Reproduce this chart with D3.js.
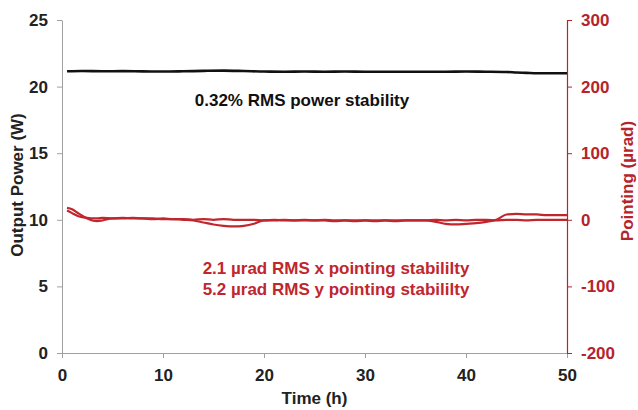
<!DOCTYPE html>
<html><head><meta charset="utf-8">
<script src="https://cdn.jsdelivr.net/npm/d3@7"></script>
<style>
html,body{margin:0;padding:0;background:#fff;}
svg{display:block;font-family:"Liberation Sans",Arial,sans-serif;font-weight:bold;}
</style></head>
<body><svg id="c" width="638" height="410"></svg>
<script>
// ---- data ----
const timeTicks = [0, 10, 20, 30, 40, 50];
const powerTicks = [0, 5, 10, 15, 20, 25];
const pointingTicks = [-200, -100, 0, 100, 200, 300];

const powerTime = [0.5, 2, 4, 6, 8, 10, 12, 14, 16, 18, 20, 22, 24, 26, 28, 30, 32, 34, 36, 38, 40, 42, 44, 45, 46, 47, 48, 50];
const powerW    = [21.15, 21.17, 21.15, 21.16, 21.14, 21.13, 21.15, 21.18, 21.2, 21.17, 21.13, 21.12, 21.13, 21.12, 21.13, 21.12, 21.12, 21.12, 21.12, 21.12, 21.13, 21.12, 21.1, 21.06, 21.03, 21.0, 21.0, 21.0];

const pointingTime = [0.5, 1, 1.5, 2, 2.5, 3, 3.5, 4, 5, 6, 7, 8, 9, 10, 11, 12, 13, 14, 15, 16, 17, 18, 19, 20, 21, 22, 23, 24, 25, 26, 27, 28, 29, 30, 31, 32, 33, 34, 35, 36, 37, 38, 39, 40, 41, 42, 43, 44, 45, 46, 47, 48, 49, 50];
const xPointing = [14, 10, 6, 4, 3, 2, 2, 3, 2, 3, 2, 2, 1, 2, 1, 1, 0, 1, 0, 1, 0, 0, 0, -1, 0, -1, -1, 0, -1, -1, -2, -1, -1, -1, -2, -1, -1, -1, -1, -1, 0, -1, 0, -1, 0, 0, -1, 0, 0, -1, 0, 0, 0, 0];
const yPointing = [18, 16, 11, 6, 2, -1, -2, -1, 2, 2, 3, 2, 2, 1, 1, 0, -1, -4, -7, -9, -10, -9, -6, -1, -1, 0, -1, -1, -1, 0, -1, -1, -2, -1, -1, -1, -2, -1, -1, -1, -3, -6, -7, -6, -5, -3, 0, 8, 9, 8, 8, 7, 7, 7];

// ---- layout ----
const svg = d3.select("#c");
const L = 62, R = 567, T = 20, B = 353;
const red = "#c0262d", axisRed = "#b5232b", grey = "#a0a0a0", txt = "#222";
const FS = "17px";

const x = d3.scaleLinear().domain([0, 50]).range([L, R]);
const yP = d3.scaleLinear().domain([0, 25]).range([B, T]);
const yA = d3.scaleLinear().domain([-200, 300]).range([B, T]);
const fmt = d => String(d); // hyphen-minus as in the original

function styleTicks(g, color) {
  g.selectAll(".tick text").attr("fill", color).style("font-size", FS)
    .style("font-weight", "bold").style("font-family", "Liberation Sans, Arial, sans-serif");
}

// axes
const gx = svg.append("g").attr("transform", `translate(0,${B})`)
  .call(d3.axisBottom(x).tickValues(timeTicks).tickFormat(fmt).tickSize(5).tickSizeOuter(0).tickPadding(11));
gx.select(".domain").attr("stroke", grey);
gx.selectAll(".tick line").attr("stroke", grey);
styleTicks(gx, txt);

const gl = svg.append("g").attr("transform", `translate(${L},0)`)
  .call(d3.axisLeft(yP).tickValues(powerTicks).tickFormat(fmt).tickSize(5).tickSizeOuter(0).tickPadding(9));
gl.select(".domain").attr("stroke", grey);
gl.selectAll(".tick line").attr("stroke", grey);
styleTicks(gl, txt);

const gr = svg.append("g").attr("transform", `translate(${R},0)`)
  .call(d3.axisRight(yA).tickValues(pointingTicks).tickFormat(fmt).tickSize(5).tickSizeOuter(0).tickPadding(9));
gr.select(".domain").attr("stroke", axisRed).attr("stroke-width", 1.2);
gr.selectAll(".tick line").attr("stroke", axisRed);
styleTicks(gr, axisRed);

// lines
const powerData = powerTime.map((t, i) => ({ t, v: powerW[i] }));
const xData = pointingTime.map((t, i) => ({ t, v: xPointing[i] }));
const yData = pointingTime.map((t, i) => ({ t, v: yPointing[i] }));

const lineP = d3.line().x(d => x(d.t)).y(d => yP(d.v)).curve(d3.curveMonotoneX);
const lineA = d3.line().x(d => x(d.t)).y(d => yA(d.v)).curve(d3.curveMonotoneX);

svg.append("path").datum(xData).attr("d", lineA).attr("fill", "none").attr("stroke", red).attr("stroke-width", 2.2);
svg.append("path").datum(yData).attr("d", lineA).attr("fill", "none").attr("stroke", red).attr("stroke-width", 2.2);
svg.append("path").datum(powerData).attr("d", lineP).attr("fill", "none").attr("stroke", "#111").attr("stroke-width", 2.6);

// axis titles
svg.append("text").attr("transform", `translate(23,185) rotate(-90)`)
  .attr("text-anchor", "middle").attr("fill", txt).style("font-size", FS).text("Output Power (W)");
svg.append("text").attr("transform", `translate(633,181) rotate(-90)`)
  .attr("text-anchor", "middle").attr("fill", axisRed).style("font-size", FS).text("Pointing (µrad)");
svg.append("text").attr("x", (L + R) / 2).attr("y", 404)
  .attr("text-anchor", "middle").attr("fill", txt).style("font-size", FS).text("Time (h)");

// annotations
svg.append("text").attr("x", 302).attr("y", 106).attr("text-anchor", "middle").attr("fill", "#111")
  .style("font-size", FS).text("0.32% RMS power stability");
svg.append("text").attr("x", 336).attr("y", 274).attr("text-anchor", "middle").attr("fill", red)
  .style("font-size", FS).text("2.1 µrad RMS x pointing stabililty");
svg.append("text").attr("x", 336).attr("y", 295).attr("text-anchor", "middle").attr("fill", red)
  .style("font-size", FS).text("5.2 µrad RMS y pointing stabililty");
</script></body></html>
